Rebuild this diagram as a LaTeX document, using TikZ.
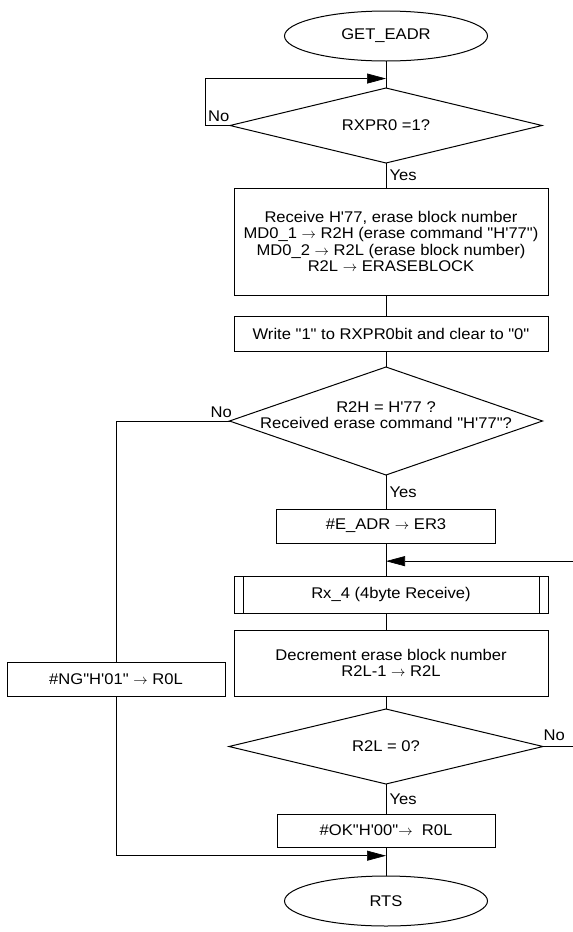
\documentclass[tikz,border=0pt]{standalone}
\usepackage{fontspec}
\setmainfont{Liberation Sans}[Ligatures=TeXOff, FakeStretch=1.07]
\usepackage{tikz}
\usetikzlibrary{shapes.geometric, arrows.meta, positioning, calc}

\begin{document}
\begin{tikzpicture}[
  x=1pt, y=-1pt,
  every node/.style={font=\fontsize{15.5}{16.5}\selectfont},
  termbox/.style={ellipse, draw, line width=1pt, minimum width=203pt, minimum height=50pt, inner sep=0pt, outer sep=0pt},
  procbox/.style={rectangle, draw, line width=1pt, minimum height=34pt, align=center, inner sep=0pt, outer sep=0pt},
  widebox/.style={procbox, minimum width=314pt},
  smallbox/.style={procbox, minimum width=219pt},
  decbox/.style={diamond, draw, line width=1pt, aspect=4, inner sep=0pt, outer sep=0pt, minimum width=312pt, minimum height=75pt},
  ln/.style={draw, line width=0.7pt},
  arr/.style={ln, -{Triangle[length=19pt, width=10pt]}}
]
  \useasboundingbox (0,0) rectangle (573,932);

  \node[termbox] (start) at (386, 36) {GET\_EADR};

  \node[decbox, below=27pt of start] (q1) {RXPR0 =1?};

  \node[widebox, minimum height=107pt, below=25pt of q1, xshift=5pt] (recv) {
    Receive H'77, erase block number\\
    MD0\_1 $\rightarrow$ R2H (erase command "H'77")\\
    MD0\_2 $\rightarrow$ R2L (erase block number)\\
    R2L $\rightarrow$ ERASEBLOCK
  };

  \node[widebox, minimum height=35pt, below=21pt of recv] (clr) {Write "1" to RXPR0bit and clear to "0"};

  \node[decbox, minimum height=108pt, minimum width=313pt, below=16pt of clr, xshift=-5pt,
    label={[align=center, yshift=6pt]center:{R2H = H'77 ?\\Received erase command "H'77"?}}] (q2) {};

  \node[smallbox, below=34pt of q2] (eadr) {\#E\_ADR $\rightarrow$ ER3};

  \node[widebox, minimum height=37pt, below=33pt of eadr, xshift=5pt] (rx4) {Rx\_4 (4byte Receive)};

  \node[widebox, minimum height=66pt, below=17pt of rx4] (dec) {
    Decrement erase block number\\
    R2L-1 $\rightarrow$ R2L
  };

  \node[smallbox, minimum width=218pt, left=9pt of dec.south west, anchor=south east] (ng) {\#NG"H'01" $\rightarrow$ R0L};

  \node[decbox, minimum width=314pt, below=13pt of dec, xshift=-5pt] (q3) {R2L = 0?};

  \node[smallbox, minimum width=218pt, minimum height=33pt, below=30pt of q3] (ok) {\#OK"H'00"$\rightarrow$\ \ R0L};

  \node[termbox, below=29pt of ok] (stop) {RTS};

  \draw[ln] ([xshift=9pt]rx4.north west) -- ([xshift=9pt]rx4.south west)
            ([xshift=-9pt]rx4.north east) -- ([xshift=-9pt]rx4.south east);

  \coordinate (join1) at ($(start.south)!0.65!(q1.north)$);
  \coordinate (join2) at ($(eadr.south)!0.55!(rx4.north -| eadr)$);
  \coordinate (join3) at ($(ok.south)!0.3!(stop.north)$);

  \draw[ln] (start) -- (q1);
  \draw[ln] (q1) -- node[right] {Yes} (recv.north -| q1);
  \draw[ln] (recv.south -| start) -- (clr.north -| start);
  \draw[ln] (clr.south -| start) -- (q2);
  \draw[ln] (q2) -- node[right] {Yes} (eadr);
  \draw[ln] (eadr) -- (rx4.north -| eadr);
  \draw[ln] (rx4.south -| eadr) -- (dec.north -| eadr);
  \draw[ln] (dec.south -| eadr) -- (q3);
  \draw[ln] (q3) -- node[right] {Yes} (ok);
  \draw[ln] (ok) -- (stop);

  \draw[arr] (q1.west) node[above left, xshift=3pt] {No} -- ++(-25,0) |- (join1);
  \draw[ln] (q2.west) node[above left, xshift=6pt] {No} -| (ng.north);
  \draw[arr] (ng.south) |- (join3);
  \draw[arr] (q3.east) node[above right, xshift=-3pt, yshift=2pt] {No} -- ++(80,0) |- (join2);

\end{tikzpicture}
\end{document}
